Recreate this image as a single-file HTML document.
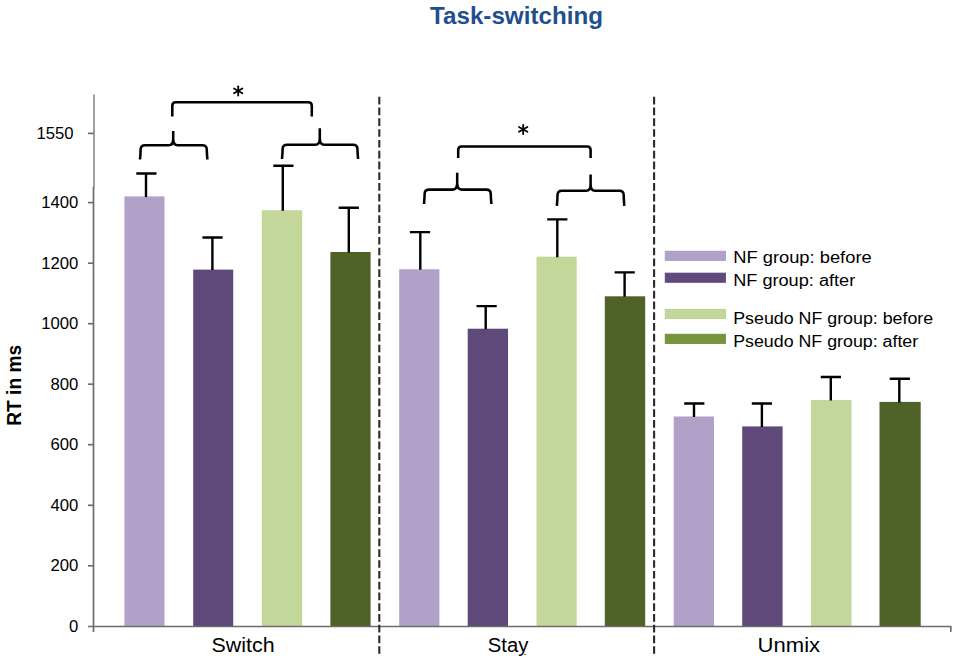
<!DOCTYPE html>
<html><head><meta charset="utf-8"><title>Task-switching</title>
<style>
html,body{margin:0;padding:0;background:#fff;}
body{width:957px;height:662px;overflow:hidden;font-family:"Liberation Sans",sans-serif;}
svg{display:block;}
text{font-family:"Liberation Sans",sans-serif;}
</style></head><body>
<svg width="957" height="662" viewBox="0 0 957 662">
<rect width="957" height="662" fill="#ffffff"/>
<text x="430" y="24.3" font-size="24" font-weight="bold" fill="#1F4F8E" textLength="173" lengthAdjust="spacingAndGlyphs">Task-switching</text>
<rect x="124.4" y="196.4" width="40.1" height="429.6" fill="#B1A0C7"/>
<rect x="193.2" y="269.6" width="40.0" height="356.4" fill="#5F497A"/>
<rect x="261.8" y="210.2" width="40.4" height="415.8" fill="#C4D79B"/>
<rect x="330.4" y="252.0" width="40.2" height="374.0" fill="#4F6228"/>
<rect x="399.2" y="269.3" width="40.2" height="356.7" fill="#B1A0C7"/>
<rect x="467.7" y="328.7" width="40.3" height="297.3" fill="#5F497A"/>
<rect x="536.5" y="256.7" width="40.2" height="369.3" fill="#C4D79B"/>
<rect x="604.8" y="296.3" width="40.4" height="329.7" fill="#4F6228"/>
<rect x="673.7" y="416.5" width="40.3" height="209.5" fill="#B1A0C7"/>
<rect x="742.2" y="426.4" width="40.4" height="199.6" fill="#5F497A"/>
<rect x="811.1" y="400.0" width="40.4" height="226.0" fill="#C4D79B"/>
<rect x="879.5" y="401.9" width="41.2" height="224.1" fill="#4F6228"/>
<g stroke="#6c6c6c" stroke-width="1.7" fill="none">
<line x1="94.0" y1="94.6" x2="94.0" y2="187.5" stroke="#808080" stroke-width="1.5"/>
<line x1="93.5" y1="186.7" x2="93.5" y2="631.9"/>
<line x1="88" y1="626.5" x2="951.4" y2="626.5"/>
<line x1="950.8" y1="626.5" x2="950.8" y2="631.9"/>
<line x1="88" y1="133.4" x2="93.6" y2="133.4"/>
<line x1="88" y1="202.6" x2="93.6" y2="202.6"/>
<line x1="88" y1="263.2" x2="93.6" y2="263.2"/>
<line x1="88" y1="323.7" x2="93.6" y2="323.7"/>
<line x1="88" y1="384.2" x2="93.6" y2="384.2"/>
<line x1="88" y1="444.7" x2="93.6" y2="444.7"/>
<line x1="88" y1="505.3" x2="93.6" y2="505.3"/>
<line x1="88" y1="565.8" x2="93.6" y2="565.8"/>
</g>
<g font-size="16.7" fill="#000" text-anchor="end">
<text x="73.6" y="139.0">1550</text>
<text x="78.3" y="208.2">1400</text>
<text x="78.3" y="268.8">1200</text>
<text x="78.3" y="329.3">1000</text>
<text x="78.3" y="389.8">800</text>
<text x="78.3" y="450.3">600</text>
<text x="78.3" y="510.9">400</text>
<text x="78.3" y="571.4">200</text>
<text x="78.3" y="631.9">0</text>
</g>
<text transform="translate(21.1,425.8) rotate(-90)" font-size="21" font-weight="bold" fill="#000" textLength="81" lengthAdjust="spacingAndGlyphs">RT in ms</text>
<g stroke="#000" stroke-width="2.4" fill="none">
<path d="M136.3,173.5 H156.5 M146.0,173.5 V196.9"/>
<path d="M202.4,237.5 H222.6 M212.4,237.5 V270.1"/>
<path d="M273.3,165.8 H293.5 M282.8,165.8 V210.7"/>
<path d="M338.7,207.8 H358.9 M348.8,207.8 V252.5"/>
<path d="M409.9,232.1 H430.1 M420.3,232.1 V269.8"/>
<path d="M476.5,306.1 H496.7 M485.7,306.1 V329.2"/>
<path d="M547.2,219.4 H567.4 M557.3,219.4 V257.2"/>
<path d="M614.6,272.4 H634.8 M624.6,272.4 V296.8"/>
<path d="M684.2,403.5 H704.4 M694.0,403.5 V417.0"/>
<path d="M751.8,403.5 H772.0 M761.9,403.5 V426.9"/>
<path d="M820.8,377.0 H841.0 M830.8,377.0 V400.5"/>
<path d="M889.7,378.7 H909.9 M899.3,378.7 V402.4"/>
</g>
<g stroke="#2b2b2b" stroke-width="2.1" stroke-dasharray="7.7 3.075" fill="none">
<line x1="379.3" y1="96.8" x2="379.3" y2="653.7"/>
<line x1="654.1" y1="96.8" x2="654.1" y2="653.7"/>
</g>
<g stroke="#000" stroke-width="2.55" fill="none" stroke-linecap="butt" stroke-linejoin="round">
<path d="M172.3,116.4 V105.7 Q172.3,102.2 175.8,102.2 H308.3 Q311.8,102.2 311.8,105.7 V116.4"/>
<path d="M140.0,159.5 Q140.6,152.7 140.6,149.7 Q140.6,145.2 145.1,145.2 H168.7 Q173.2,145.2 173.2,138.7 V131 M173.2,131 V138.7 Q173.2,145.2 177.7,145.2 H202.3 Q206.8,145.2 206.8,149.7 Q206.8,152.7 207.4,159.5"/>
<path d="M282.0,159.0 Q282.6,152.2 282.6,149.2 Q282.6,144.7 287.1,144.7 H315.3 Q319.8,144.7 319.8,138.2 V128.2 M319.8,128.2 V138.2 Q319.8,144.7 324.3,144.7 H353.0 Q357.5,144.7 357.5,149.2 Q357.5,152.2 358.1,159.0"/>
<path d="M458.2,158.1 V150.0 Q458.2,146.5 461.7,146.5 H587.1 Q590.6,146.5 590.6,150.0 V158.1"/>
<path d="M424.0,204.0 Q424.6,197.1 424.6,194.1 Q424.6,189.6 429.1,189.6 H452.7 Q457.2,189.6 457.2,183.1 V172.7 M457.2,172.7 V183.1 Q457.2,189.6 461.7,189.6 H486.3 Q490.8,189.6 490.8,194.1 Q490.8,197.1 491.40000000000003,204.0"/>
<path d="M556.9,205.8 Q557.5,198.3 557.5,195.3 Q557.5,190.8 562.0,190.8 H586.1 Q590.6,190.8 590.6,184.3 V174.6 M590.6,174.6 V184.3 Q590.6,190.8 595.1,190.8 H619.2 Q623.7,190.8 623.7,195.3 Q623.7,198.3 624.3000000000001,205.8"/>
</g>
<g stroke="#000" stroke-width="1.8" stroke-linecap="round"><line x1="238.2" y1="86.30000000000001" x2="238.2" y2="95.5"/><line x1="234.0" y1="88.5" x2="242.39999999999998" y2="93.30000000000001"/><line x1="234.0" y1="93.30000000000001" x2="242.39999999999998" y2="88.5"/></g>
<g stroke="#000" stroke-width="1.8" stroke-linecap="round"><line x1="523.2" y1="124.80000000000001" x2="523.2" y2="134.0"/><line x1="519.0" y1="127.0" x2="527.4000000000001" y2="131.8"/><line x1="519.0" y1="131.8" x2="527.4000000000001" y2="127.0"/></g>
<g stroke-width="0.8">
<rect x="665.2" y="251.2" width="60.3" height="9.2" fill="#B1A0C7" stroke="#a895c6"/>
<rect x="665.2" y="273.1" width="60.3" height="9.2" fill="#604A7C" stroke="#593d83"/>
<rect x="665.2" y="309.3" width="60.3" height="9.3" fill="#C3D69B" stroke="#b6ce87"/>
<rect x="665.2" y="334.2" width="60.3" height="9.3" fill="#77933C" stroke="#6b8b2e"/>
</g>
<g font-size="16" fill="#000">
<text x="733.2" y="262.8" textLength="138.5" lengthAdjust="spacingAndGlyphs">NF group: before</text>
<text x="733.2" y="286.4" textLength="122" lengthAdjust="spacingAndGlyphs">NF group: after</text>
<text x="733.2" y="324.3" textLength="200" lengthAdjust="spacingAndGlyphs">Pseudo NF group: before</text>
<text x="733.2" y="347.4" textLength="185" lengthAdjust="spacingAndGlyphs">Pseudo NF group: after</text>
</g>
<g font-size="20" fill="#000">
<text x="211.6" y="652" textLength="63" lengthAdjust="spacingAndGlyphs">Switch</text>
<text x="487.8" y="652" textLength="40.5" lengthAdjust="spacingAndGlyphs">Stay</text>
<circle cx="525" cy="654.4" r="0.7" fill="#222"/>
<text x="757.6" y="652" textLength="62.5" lengthAdjust="spacingAndGlyphs">Unmix</text>
</g>
</svg>
</body></html>
